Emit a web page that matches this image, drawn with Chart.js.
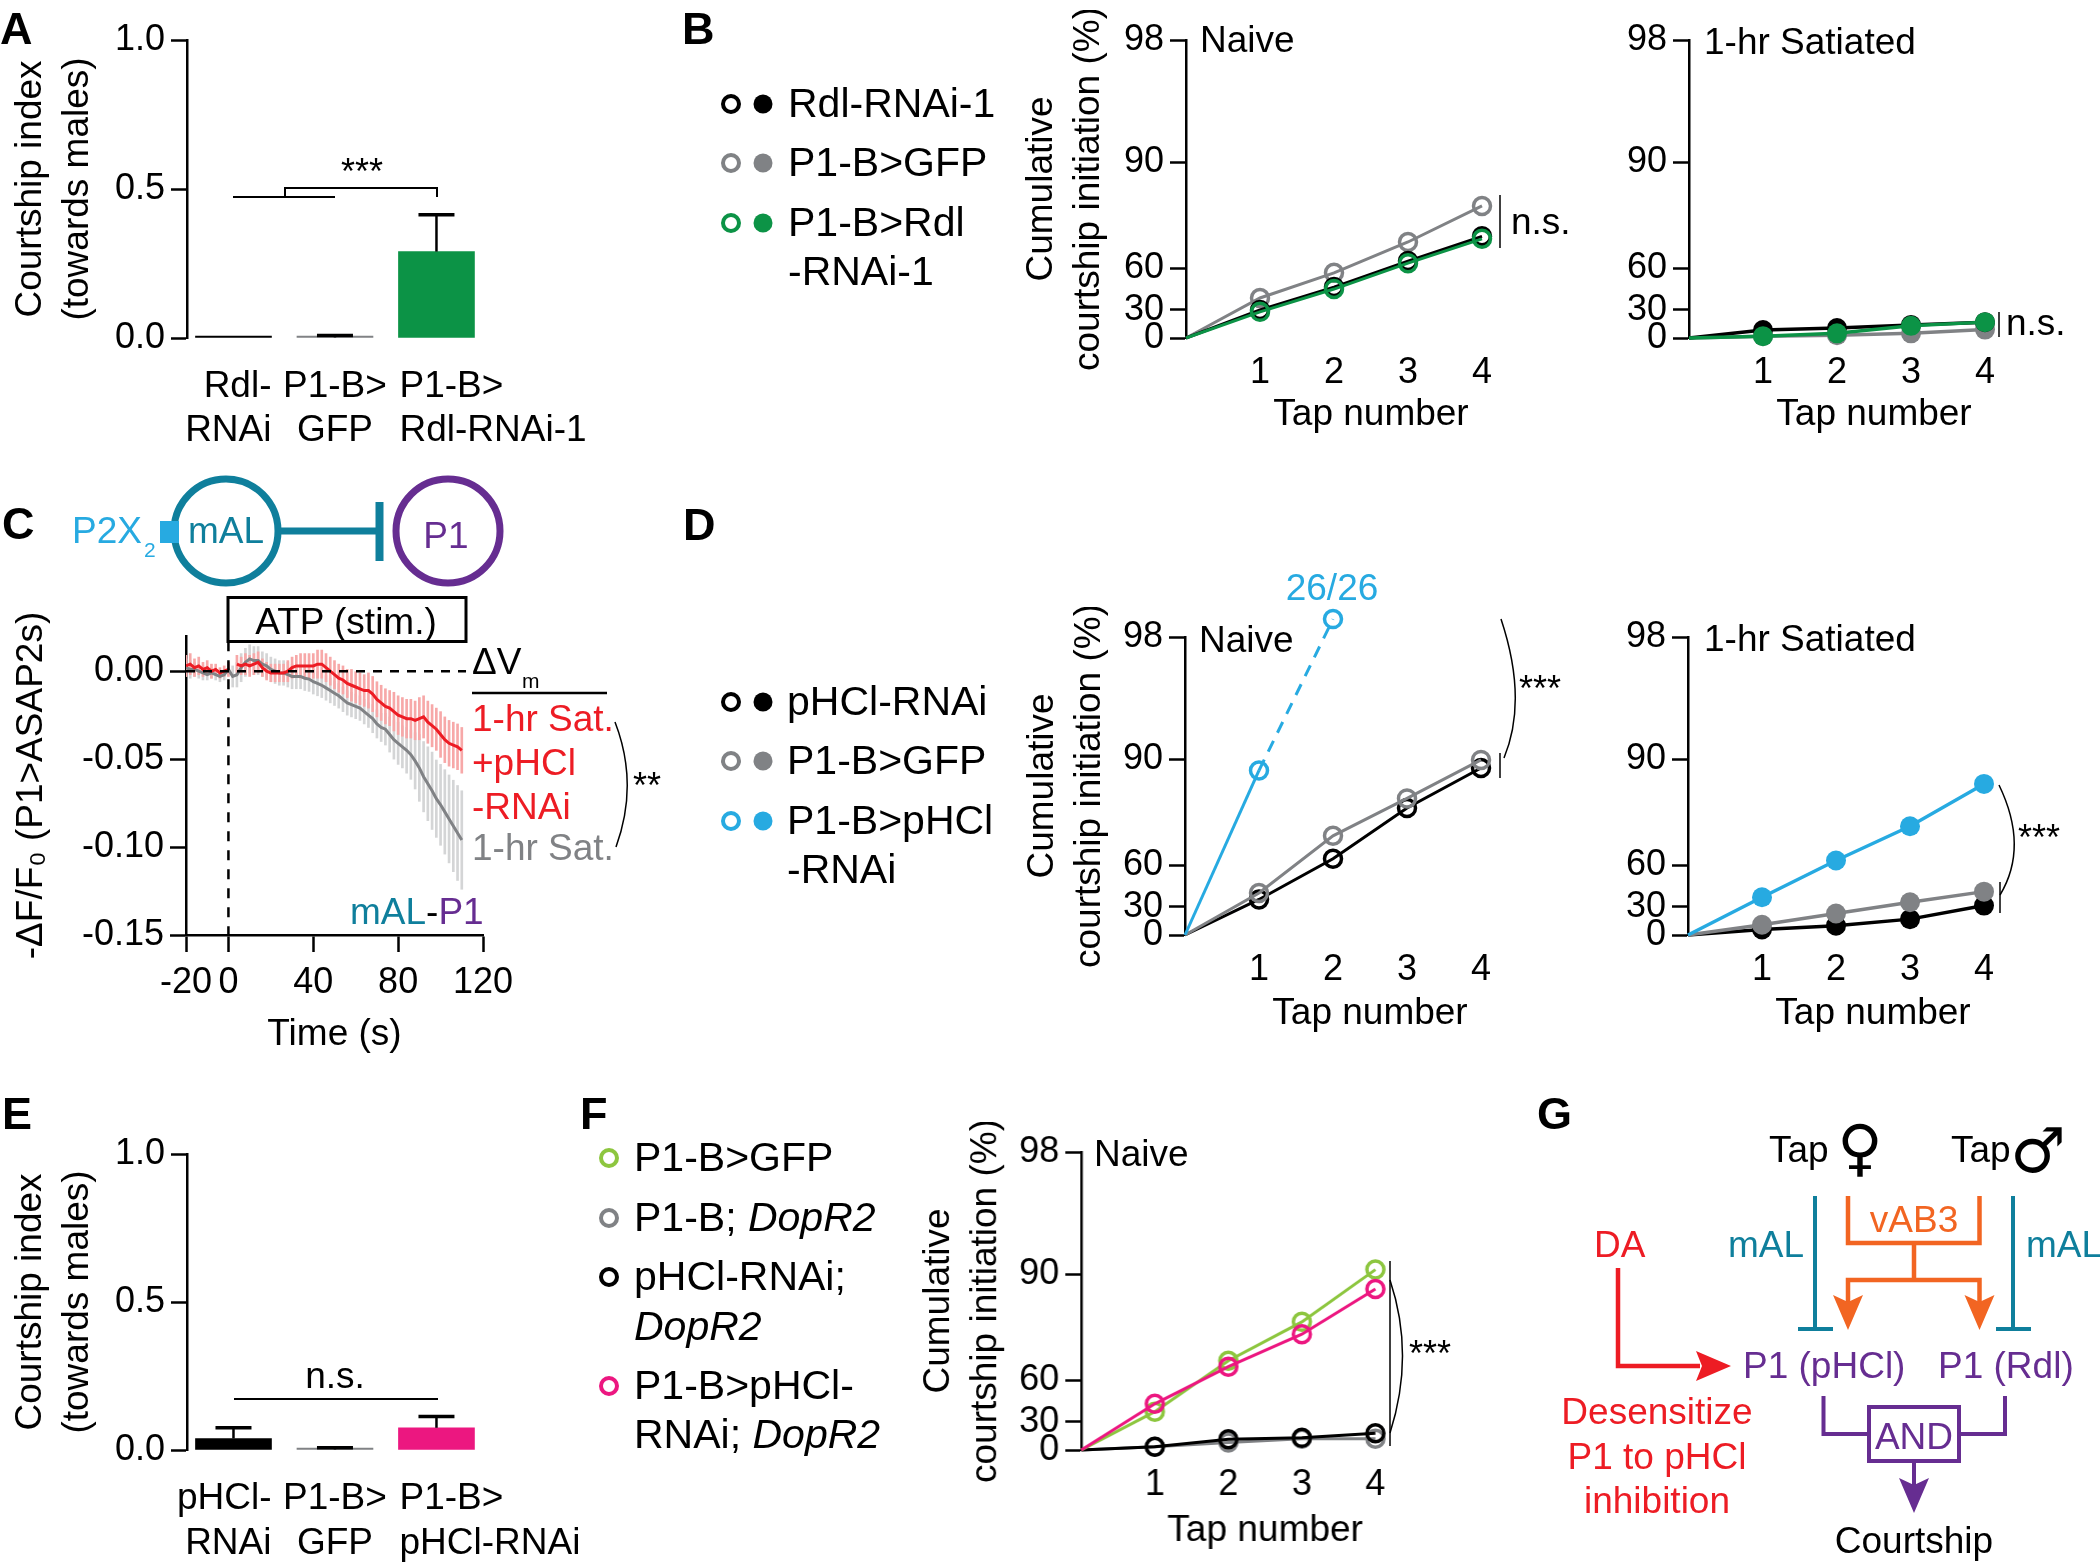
<!DOCTYPE html>
<html>
<head>
<meta charset="utf-8">
<title>Courtship figure</title>
<script src="https://cdn.jsdelivr.net/npm/chart.js@4/dist/chart.umd.js"></script>
<style>
  html, body { margin: 0; padding: 0; background: #fff; }
  #page { position: relative; width: 2100px; height: 1565px; overflow: hidden; }
  #page canvas { position: absolute; }
  #notes { position: absolute; left: 0; top: 0; }
  #notes text { font-family: "Liberation Sans", Arial, sans-serif; font-size: 37px; transform: translateY(1.5px); }
  #notes .letter { font-size: 45px; font-weight: bold; }
  #notes .legend { font-size: 41px; }
  #notes .sub { font-size: 21px; }
  #notes .stars { font-size: 36px; }
  #notes .sym { font-family: "DejaVu Sans", sans-serif; font-size: 62px; }
  #notes path, #notes line, #notes rect.box { fill: none; }
</style>
</head>
<body>
<div id="page">
<svg id="notes" width="2100" height="1565" style="z-index:5">
  <!-- letras de panel -->
  <text class="letter" x="0" y="42">A</text>
  <text class="letter" x="682" y="42">B</text>
  <text class="letter" x="2" y="537">C</text>
  <text class="letter" x="683" y="538">D</text>
  <text class="letter" x="2" y="1127">E</text>
  <text class="letter" x="580" y="1127">F</text>
  <text class="letter" x="1537" y="1127">G</text>

  <!-- A -->
  <path d="M233 197H335M285 197V188H437V197" stroke="#000" stroke-width="2"/>
  <text class="stars" x="362" y="182" text-anchor="middle">***</text>

  <!-- leyenda B -->
  <g stroke-width="4" fill="none">
    <circle cx="731" cy="104" r="8" stroke="#000" fill="none"/>
    <circle cx="731" cy="163" r="8" stroke="#808285" fill="none"/>
    <circle cx="731" cy="223" r="8" stroke="#0c9346" fill="none"/>
  </g>
  <circle cx="763" cy="104" r="9.5" fill="#000"/>
  <circle cx="763" cy="163" r="9.5" fill="#808285"/>
  <circle cx="763" cy="223" r="9.5" fill="#0c9346"/>
  <text class="legend" x="788" y="115">Rdl-RNAi-1</text>
  <text class="legend" x="788" y="174">P1-B&gt;GFP</text>
  <text class="legend" x="788" y="234">P1-B&gt;Rdl</text>
  <text class="legend" x="788" y="283">-RNAi-1</text>

  <text x="1200" y="50">Naive</text>
  <text x="1704" y="52">1-hr Satiated</text>
  <line x1="1500" y1="195" x2="1500" y2="248" stroke="#000" stroke-width="1.5"/>
  <text x="1511" y="232">n.s.</text>
  <line x1="1999" y1="312" x2="1999" y2="337" stroke="#000" stroke-width="1.5"/>
  <text x="2006" y="333">n.s.</text>

  <!-- esquema C -->
  <circle cx="226" cy="531" r="52" stroke="#0f7f9c" stroke-width="7" fill="none"/>
  <circle cx="448" cy="531" r="52" stroke="#662d91" stroke-width="7" fill="none"/>
  <rect x="160" y="521" width="19" height="22" fill="#27aae1"/>
  <line x1="281" y1="531" x2="379" y2="531" stroke="#0f7f9c" stroke-width="7"/>
  <line x1="379.5" y1="502" x2="379.5" y2="561" stroke="#0f7f9c" stroke-width="8"/>
  <text x="72" y="541" fill="#27aae1">P2X</text><text class="sub" x="144" y="555" fill="#27aae1">2</text>
  <text x="226" y="541" text-anchor="middle" fill="#0f7f9c">mAL</text>
  <text x="446" y="546" text-anchor="middle" fill="#662d91">P1</text>
  <rect class="box" x="228" y="597.5" width="238" height="44" stroke="#000" stroke-width="3"/>
  <text x="346" y="632" text-anchor="middle">ATP (stim.)</text>
  <text x="472" y="672">ΔV</text><text class="sub" x="522" y="686">m</text>
  <line x1="472" y1="693" x2="607" y2="693" stroke="#000" stroke-width="2.5"/>
  <text x="472" y="729" fill="#ed1c24">1-hr Sat.</text>
  <text x="472" y="773" fill="#ed1c24">+pHCl</text>
  <text x="472" y="817" fill="#ed1c24">-RNAi</text>
  <text x="472" y="858" fill="#808285">1-hr Sat.</text>
  <path d="M615 722Q639 784 616 847" stroke="#000" stroke-width="1.5"/>
  <text class="stars" x="647" y="796" text-anchor="middle">**</text>
  <text x="350" y="922" fill="#0f7f9c">mAL<tspan fill="#000">-</tspan><tspan fill="#662d91">P1</tspan></text>

  <!-- leyenda D -->
  <g stroke-width="4" fill="none">
    <circle cx="731" cy="702" r="8" stroke="#000" fill="none"/>
    <circle cx="731" cy="761" r="8" stroke="#808285" fill="none"/>
    <circle cx="731" cy="821" r="8" stroke="#27aae1" fill="none"/>
  </g>
  <circle cx="763" cy="702" r="9.5" fill="#000"/>
  <circle cx="763" cy="761" r="9.5" fill="#808285"/>
  <circle cx="763" cy="821" r="9.5" fill="#27aae1"/>
  <text class="legend" x="787" y="713">pHCl-RNAi</text>
  <text class="legend" x="787" y="772">P1-B&gt;GFP</text>
  <text class="legend" x="787" y="832">P1-B&gt;pHCl</text>
  <text class="legend" x="787" y="881">-RNAi</text>

  <text x="1332" y="598" text-anchor="middle" fill="#27aae1">26/26</text>
  <text x="1199" y="650">Naive</text>
  <text x="1704" y="649">1-hr Satiated</text>
  <line x1="1500" y1="753" x2="1500" y2="778" stroke="#000" stroke-width="1.5"/>
  <path d="M1501 619Q1528 700 1504 758" stroke="#000" stroke-width="1.5"/>
  <text class="stars" x="1540" y="699" text-anchor="middle">***</text>
  <line x1="2000" y1="882" x2="2000" y2="913" stroke="#000" stroke-width="1.5"/>
  <path d="M1999 785Q2029 847 2000 895" stroke="#000" stroke-width="1.5"/>
  <text class="stars" x="2039" y="848" text-anchor="middle">***</text>

  <!-- E -->
  <line x1="234" y1="1399" x2="438" y2="1399" stroke="#000" stroke-width="2"/>
  <text x="335" y="1386" text-anchor="middle">n.s.</text>

  <!-- leyenda F -->
  <g stroke-width="4" fill="none">
    <circle cx="609" cy="1158" r="8" stroke="#8dc63f" fill="none"/>
    <circle cx="609" cy="1218" r="8" stroke="#808285" fill="none"/>
    <circle cx="609" cy="1277" r="8" stroke="#000" fill="none"/>
    <circle cx="609" cy="1386" r="8" stroke="#ec1780" fill="none"/>
  </g>
  <text class="legend" x="634" y="1169">P1-B&gt;GFP</text>
  <text class="legend" x="634" y="1229">P1-B; <tspan font-style="italic">DopR2</tspan></text>
  <text class="legend" x="634" y="1288">pHCl-RNAi;</text>
  <text class="legend" x="634" y="1338" font-style="italic">DopR2</text>
  <text class="legend" x="634" y="1397">P1-B&gt;pHCl-</text>
  <text class="legend" x="634" y="1446">RNAi; <tspan font-style="italic">DopR2</tspan></text>

  <text x="1094" y="1164">Naive</text>
  <line x1="1390" y1="1261" x2="1390" y2="1446" stroke="#000" stroke-width="1.5"/>
  <path d="M1390 1280Q1415 1355 1390 1433" stroke="#000" stroke-width="1.5"/>
  <text class="stars" x="1430" y="1364" text-anchor="middle">***</text>

  <!-- esquema G -->
  <text x="1769" y="1160">Tap</text>
  <text class="sym" x="1860" y="1167" text-anchor="middle">♀</text>
  <text x="1951" y="1160">Tap</text>
  <text class="sym" x="2038" y="1170" text-anchor="middle">♂</text>
  <g stroke="#0f7f9c" stroke-width="4">
    <line x1="1815" y1="1196" x2="1815" y2="1329"/>
    <line x1="1798" y1="1329" x2="1833" y2="1329"/>
    <line x1="2013" y1="1196" x2="2013" y2="1329"/>
    <line x1="1996" y1="1329" x2="2031" y2="1329"/>
  </g>
  <text x="1728" y="1255" fill="#0f7f9c">mAL</text>
  <text x="2026" y="1255" fill="#0f7f9c">mAL</text>
  <path d="M1848 1196V1243H1979.5V1196M1914 1243V1280M1848 1302V1280H1979.5V1302" stroke="#f26522" stroke-width="4.5"/>
  <polygon points="1833,1295 1848,1302 1863,1295 1848,1330" fill="#f26522"/>
  <polygon points="1964.5,1295 1979.5,1302 1994.5,1295 1979.5,1330" fill="#f26522"/>
  <text x="1914" y="1230" text-anchor="middle" fill="#f26522">vAB3</text>
  <text x="1594" y="1255" fill="#ed1c24">DA</text>
  <path d="M1618 1268V1366H1700" stroke="#ed1c24" stroke-width="4.5"/>
  <polygon points="1696,1351 1731,1366 1696,1381 1702,1366" fill="#ed1c24"/>
  <text x="1743" y="1376" fill="#662d91">P1 (pHCl)</text>
  <text x="1938" y="1376" fill="#662d91">P1 (Rdl)</text>
  <text x="1657" y="1422" text-anchor="middle" fill="#ed1c24">Desensitize</text>
  <text x="1657" y="1467" text-anchor="middle" fill="#ed1c24">P1 to pHCl</text>
  <text x="1657" y="1511" text-anchor="middle" fill="#ed1c24">inhibition</text>
  <path d="M1823.5 1396V1434H1869M2005 1396V1434H1959M1914 1461V1485" stroke="#662d91" stroke-width="4"/>
  <rect class="box" x="1869" y="1407" width="90" height="54" stroke="#662d91" stroke-width="4"/>
  <polygon points="1899,1478 1914,1485 1929,1478 1914,1513" fill="#662d91"/>
  <text x="1914" y="1447" text-anchor="middle" fill="#662d91">AND</text>
  <text x="1914" y="1551" text-anchor="middle">Courtship</text>
</svg>
</div>
<script>
// ---------- datos ----------
const BLACK = '#000000', GRAY = '#808285', GREEN = '#0c9346', BLUE = '#27aae1';
const PINK = '#ec1780', LIME = '#8dc63f', RED = '#ed1c24';

const tapNumbers = [0, 1, 2, 3, 4];
const tapTicks = [0, 30, 60, 90, 98];

const bNaiveBlack = [0, 30, 46.4, 62, 69];
const bNaiveGray = [0, 38.6, 56.6, 67.4, 77.6];
const bNaiveGreen = [0, 28, 45, 61.4, 68.3];
const bSatBlack = [0, 8.5, 10.7, 14, 17];
const bSatGray = [0, 2, 3, 5, 9];
const bSatGreen = [0, 2, 5, 13, 17];

const dNaiveBlack = [0, 35.4, 61.8, 76.2, 87.5];
const dNaiveGray = [0, 40, 68.3, 78.9, 89.8];
const dNaiveBlue = [0, 86.8, 100];
const dSatBlack = [0, 6, 10, 17, 31];
const dSatGray = [0, 11, 23, 33.4, 41];
const dSatBlue = [0, 37, 61.3, 71, 83];

const fNaiveLime = [0, 37.4, 65.5, 76.5, 90.3];
const fNaivePink = [0, 43, 63.8, 73, 85.8];
const fNaiveBlack = [0, 3.5, 11.5, 13, 18];
const fNaiveGray = [0, 3.5, 8, 12, 12];

const aCategories = [['Rdl-', 'RNAi'], ['P1-B>', 'GFP'], ['P1-B>', 'Rdl-RNAi-1']];
const aMeans = [0, 0.002, 0.29];
const aErrors = [0, 0.006, 0.124];
const aColors = [BLACK, GRAY, GREEN];

const eCategories = [['pHCl-', 'RNAi'], ['P1-B>', 'GFP'], ['P1-B>', 'pHCl-RNAi']];
const eMeans = [0.039, 0.002, 0.075];
const eErrors = [0.036, 0.006, 0.038];
const eColors = [BLACK, GRAY, PINK];

const timeSec = [-20,-18,-16,-14,-12,-10,-8,-6,-4,-2,0,2,4,6,8,10,12,14,16,18,20,22,24,26,28,30,32,34,36,38,40,
  42,44,46,48,50,52,54,56,58,60,62,64,66,68,70,72,74,76,78,80,82,84,86,88,90,92,94,96,98,100,102,104,106,108,110];
const redMean = [.003,.004,.002,.003,.001,.002,0,.001,-.001,0,.001,
  null,.004,.003,.004,.003,.004,.005,.002,0,-.001,
  -.001,-.001,-.001,0,.002,.003,.003,.003,.003,.003,
  .004,.004,.002,0,-.002,-.004,-.005,-.007,-.008,-.009,
  -.01,-.011,-.011,-.013,-.016,-.018,-.02,-.021,-.023,-.025,
  -.026,-.027,-.027,-.028,-.027,-.026,-.029,-.031,-.033,-.036,
  -.039,-.041,-.042,-.043,-.045];
const redSem = [.006,.006,.005,.005,.004,.004,.004,.003,.003,.003,.004,
  0,.005,.005,.006,.006,.006,.006,.005,.005,.005,
  .005,.005,.005,.006,.006,.006,.007,.007,.007,.007,
  .008,.008,.008,.008,.008,.008,.008,.008,.009,.009,
  .009,.009,.010,.010,.010,.010,.010,.010,.011,.011,
  .011,.011,.011,.011,.012,.012,.012,.012,.012,.013,
  .013,.013,.013,.013,.013];
const grayMean = [.002,.001,.001,0,-.001,-.002,-.001,-.002,-.003,-.002,.001,
  -.003,-.002,.002,.005,.007,.006,.006,.004,.003,.001,
  0,-.001,-.001,-.002,-.003,-.003,-.003,-.004,-.0045,-.006,
  -.007,-.008,-.0095,-.011,-.0125,-.014,-.016,-.018,-.019,-.02,
  -.021,-.023,-.025,-.027,-.03,-.032,-.033,-.036,-.039,-.041,
  -.043,-.045,-.0475,-.051,-.055,-.06,-.064,-.068,-.0725,-.076,
  -.08,-.084,-.088,-.092,-.096];
const graySem = [.005,.005,.004,.004,.004,.003,.003,.003,.003,.003,.003,
  .006,.007,.008,.008,.008,.008,.008,.007,.007,.007,
  .007,.007,.007,.007,.007,.007,.007,.007,.007,.007,
  .007,.007,.007,.007,.007,.007,.007,.007,.007,.007,
  .007,.007,.007,.008,.008,.008,.009,.010,.011,.012,
  .012,.013,.014,.016,.019,.020,.021,.022,.022,.023,
  .024,.025,.026,.027,.028];

// ---------- utilidades ----------
const FONT = '"Liberation Sans", Arial, sans-serif';
const tickFont = { family: FONT, size: 36 };
const page = document.getElementById('page');
const notes = document.getElementById('notes');

// eje de probabilidad: las marcas 0-30-60-90-98 no estan a igual distancia
const tapFractions = [0, 0.094, 0.2345, 0.59, 1];
class TapScale extends Chart.LinearScale {
    static id = 'tapscale';
    static defaults = Chart.LinearScale.defaults;
    fraction(v) {
        let i = 0;
        while (i < tapTicks.length - 2 && v > tapTicks[i + 1]) i++;
        const k = (v - tapTicks[i]) / (tapTicks[i + 1] - tapTicks[i]);
        if (v > 98) return 1 + (v - 98) * 0.03;
        return tapFractions[i] + k * (tapFractions[i + 1] - tapFractions[i]);
    }
    getPixelForValue(v) {
        return this.bottom - this.fraction(v) * (this.bottom - this.top);
    }
}
Chart.register(TapScale);

// el punto 26/26 queda por encima de 98 y Chart.js no lo pinta fuera del area
const overflowPoints = {
    id: 'overflowPoints',
    afterDatasetsDraw(chart) {
        const area = chart.chartArea;
        const all = { left: -1e4, right: 1e4, top: -1e4, bottom: 1e4 };
        chart.getSortedVisibleDatasetMetas().forEach(meta => {
            meta.data.forEach(el => {
                if (el.y < area.top) el.draw(chart.ctx, all);
            });
        });
    }
};

function addCanvas(left, top, width, height) {
    const c = document.createElement('canvas');
    c.width = width;
    c.height = height;
    c.style.left = left + 'px';
    c.style.top = top + 'px';
    c.style.width = width + 'px';
    c.style.height = height + 'px';
    page.insertBefore(c, notes);
    return c;
}

function yTitle(text) {
    return {
        display: !!text, text, color: '#000', padding: 0,
        font: { family: FONT, size: 37, lineHeight: '47px' }
    };
}

function yAxisLook() {
    return {
        border: { display: true, color: '#000', width: 2.5 },
        grid: { drawOnChartArea: false, drawTicks: true, tickLength: 16, tickWidth: 2.5, color: '#000' }
    };
}

const baseOptions = {
    responsive: false, animation: false, devicePixelRatio: 1, events: [],
    plugins: { legend: { display: false }, tooltip: { enabled: false } }
};

function openLine(values, color) {
    return {
        data: values.map((v, i) => ({ x: tapNumbers[i], y: v })),
        borderColor: color, borderWidth: 3, clip: false,
        pointRadius: values.map((v, i) => i === 0 ? 0 : 8.5),
        pointBorderWidth: 3.5, pointBorderColor: color, pointBackgroundColor: 'rgba(0,0,0,0)'
    };
}

function filledLine(values, color) {
    return {
        data: values.map((v, i) => ({ x: tapNumbers[i], y: v })),
        borderColor: color, borderWidth: 3.5, clip: false,
        pointRadius: values.map((v, i) => i === 0 ? 0 : 10),
        pointBorderWidth: 0, pointBackgroundColor: color
    };
}

// panel de "Tap number"; axis/top/zero en pixeles de la pagina
function tapChart(axis, top, zero, step, datasets, titleX, footer) {
    const right = axis + step * 5;
    const left = titleX ? Math.round(titleX - 23.5) : axis - 160;
    const c = addCanvas(left, top - 30, right - left + 60, zero - top + 30 + footer);
    return new Chart(c, {
        type: 'line',
        data: { datasets },
        options: {
            ...baseOptions,
            layout: { padding: { top: 30, right: 60, left: 0, bottom: 0 } },
            scales: {
                x: {
                    type: 'linear', min: 0, max: 5, offset: false,
                    afterBuildTicks: s => { s.ticks = tapNumbers.slice(1).map(value => ({ value })); },
                    afterFit: s => { s.height = footer; },
                    grid: { display: false }, border: { display: false },
                    ticks: { font: tickFont, color: '#000', padding: 5, autoSkip: false, maxRotation: 0, callback: v => String(v) },
                    title: { display: true, text: 'Tap number', color: '#000', padding: 0, font: { family: FONT, size: 37, lineHeight: '40px' } }
                },
                y: {
                    type: 'tapscale', min: 0, max: 98,
                    afterBuildTicks: s => { s.ticks = tapTicks.map(value => ({ value })); },
                    afterFit: s => { s.width = axis - left; },
                    ...yAxisLook(),
                    ticks: { font: tickFont, color: '#000', padding: 6, autoSkip: false, callback: v => String(v) },
                    title: yTitle(titleX ? ['Cumulative', 'courtship initiation (%)'] : '')
                }
            }
        },
        plugins: [overflowPoints]
    });
}

// barras con error hacia arriba
const errorBarPlugin = {
    id: 'errorBars',
    afterDatasetsDraw(chart) {
        const ds = chart.data.datasets[0];
        const { x, y } = chart.scales;
        const ctx = chart.ctx;
        ctx.save();
        ctx.strokeStyle = '#000';
        ds.errors.forEach((e, i) => {
            if (!e) return;
            const px = x.getPixelForValue(i);
            const y0 = y.getPixelForValue(ds.data[i].y);
            const y1 = y.getPixelForValue(ds.data[i].y + e);
            ctx.lineWidth = 2.5;
            ctx.beginPath(); ctx.moveTo(px, y0); ctx.lineTo(px, y1); ctx.stroke();
            ctx.lineWidth = 3.5;
            ctx.beginPath(); ctx.moveTo(px - 18, y1); ctx.lineTo(px + 18, y1); ctx.stroke();
        });
        ctx.restore();
    }
};

function barChart(top, zero, categories, means, errors, colors, lineY) {
    const axis = 187, titleX = 30;
    const left = Math.round(titleX - 23.5);
    const width = 510 - left;
    const c = addCanvas(left, top - 30, width, zero - top + 30 + 40);
    const chart = new Chart(c, {
        type: 'bar',
        data: {
            datasets: [{
                data: means.map((v, i) => ({ x: i, y: v })),
                errors, backgroundColor: colors, barThickness: 76, minBarLength: 2, clip: false
            }]
        },
        options: {
            ...baseOptions,
            layout: { padding: { top: 30, right: 10, left: 0, bottom: 40 } },
            scales: {
                x: { type: 'linear', min: -0.458, max: 2.626, offset: false, display: false, grid: { display: false } },
                y: {
                    type: 'linear', min: 0, max: 1,
                    afterBuildTicks: s => { s.ticks = [0, 0.5, 1].map(value => ({ value })); },
                    afterFit: s => { s.width = axis - left; },
                    ...yAxisLook(),
                    ticks: { font: tickFont, color: '#000', padding: 6, autoSkip: false, callback: v => v.toFixed(1) },
                    title: yTitle(['Courtship index', '(towards males)'])
                }
            }
        },
        plugins: [errorBarPlugin]
    });
    // rotulos de categoria: cada uno con su propia alineacion, como en la figura
    const anchors = ['end', 'middle', 'start'];
    const shifts = [38, 0, -37];
    categories.forEach((lines, i) => {
        lines.forEach((txt, j) => {
            const t = document.createElementNS('http://www.w3.org/2000/svg', 'text');
            t.setAttribute('x', chart.scales.x.getPixelForValue(i) + left + shifts[i]);
            t.setAttribute('y', lineY[j]);
            t.setAttribute('text-anchor', anchors[i]);
            t.textContent = txt;
            notes.appendChild(t);
        });
    });
    return chart;
}

// ---------- panel C ----------
function traceChart() {
    const axis = 186, top = 636, bottom = 935, right = 483;
    const left = Math.round(31 - 23.5);
    const c = addCanvas(left, top - 30, right - left + 60, bottom - top + 30 + 120);
    const band = (mean, sem) => timeSec.map((t, i) => ({ x: t, y: mean[i] === null ? null : [mean[i] - sem[i], mean[i] + sem[i]] }));
    const trace = arr => timeSec.map((t, i) => ({ x: t, y: arr[i] }));
    return new Chart(c, {
        type: 'line',
        data: {
            datasets: [
                { data: [{ x: -20, y: 0 }, { x: 112, y: 0 }], borderColor: '#000', borderWidth: 2.5, borderDash: [9, 8], pointRadius: 0, clip: false },
                { data: [{ x: 0, y: 0.017 }, { x: 0, y: -0.15 }], borderColor: '#000', borderWidth: 2.5, borderDash: [10, 9], pointRadius: 0, clip: false },
                { data: trace(redMean), borderColor: RED, borderWidth: 3, pointRadius: 0, spanGaps: false },
                { data: trace(grayMean), borderColor: GRAY, borderWidth: 3, pointRadius: 0 },
                { type: 'bar', data: band(redMean, redSem), backgroundColor: '#f7a8a8', barThickness: 2, grouped: false },
                { type: 'bar', data: band(grayMean, graySem), backgroundColor: '#d4d5d6', barThickness: 2, grouped: false }
            ]
        },
        options: {
            ...baseOptions,
            layout: { padding: { top: 30, right: 60, left: 0, bottom: 0 } },
            scales: {
                x: {
                    type: 'linear', min: -20, max: 120, offset: false,
                    afterBuildTicks: s => { s.ticks = [-20, 0, 40, 80, 120].map(value => ({ value })); },
                    afterFit: s => { s.height = 120; },
                    border: { display: true, color: '#000', width: 2.5 },
                    grid: { offset: false, drawOnChartArea: false, drawTicks: true, tickLength: 17, tickWidth: 2.5, color: '#000' },
                    ticks: { font: tickFont, color: '#000', padding: 9, autoSkip: false, maxRotation: 0, callback: v => String(v) },
                    title: { display: true, text: 'Time (s)', color: '#000', padding: 0, font: { family: FONT, size: 37, lineHeight: '40px' } }
                },
                y: {
                    type: 'linear', min: -0.15, max: 0.02,
                    afterBuildTicks: s => { s.ticks = [-0.15, -0.1, -0.05, 0].map(value => ({ value })); },
                    afterFit: s => { s.width = axis - left; },
                    ...yAxisLook(),
                    ticks: { font: tickFont, color: '#000', padding: 6, autoSkip: false, callback: v => v.toFixed(2) },
                    title: yTitle('-ΔF/F₀ (P1>ASAP2s)')
                }
            }
        }
    });
}

// ---------- graficos ----------
barChart(40, 338, aCategories, aMeans, aErrors, aColors, [395, 439]);
barChart(1154, 1450, eCategories, eMeans, eErrors, eColors, [1507, 1552]);

tapChart(1186, 40, 338, 74, [
    openLine(bNaiveGreen, GREEN), openLine(bNaiveBlack, BLACK), openLine(bNaiveGray, GRAY)
], 1041, 97);
tapChart(1689, 40, 338, 74, [
    filledLine(bSatGreen, GREEN), filledLine(bSatBlack, BLACK), filledLine(bSatGray, GRAY)
], 0, 97);

traceChart();

const dashedBlue = openLine(dNaiveBlue, BLUE);
dashedBlue.segment = { borderDash: ctx => ctx.p0DataIndex === 1 ? [12, 9] : undefined };
tapChart(1185, 637, 935, 74, [
    dashedBlue, openLine(dNaiveGray, GRAY), openLine(dNaiveBlack, BLACK)
], 1042, 99);
tapChart(1688, 637, 935, 74, [
    filledLine(dSatBlue, BLUE), filledLine(dSatGray, GRAY), filledLine(dSatBlack, BLACK)
], 0, 99);

tapChart(1081, 1152, 1450, 73.5, [
    openLine(fNaivePink, PINK), openLine(fNaiveLime, LIME), openLine(fNaiveBlack, BLACK), openLine(fNaiveGray, GRAY)
], 938, 101);
</script>
</body>
</html>
